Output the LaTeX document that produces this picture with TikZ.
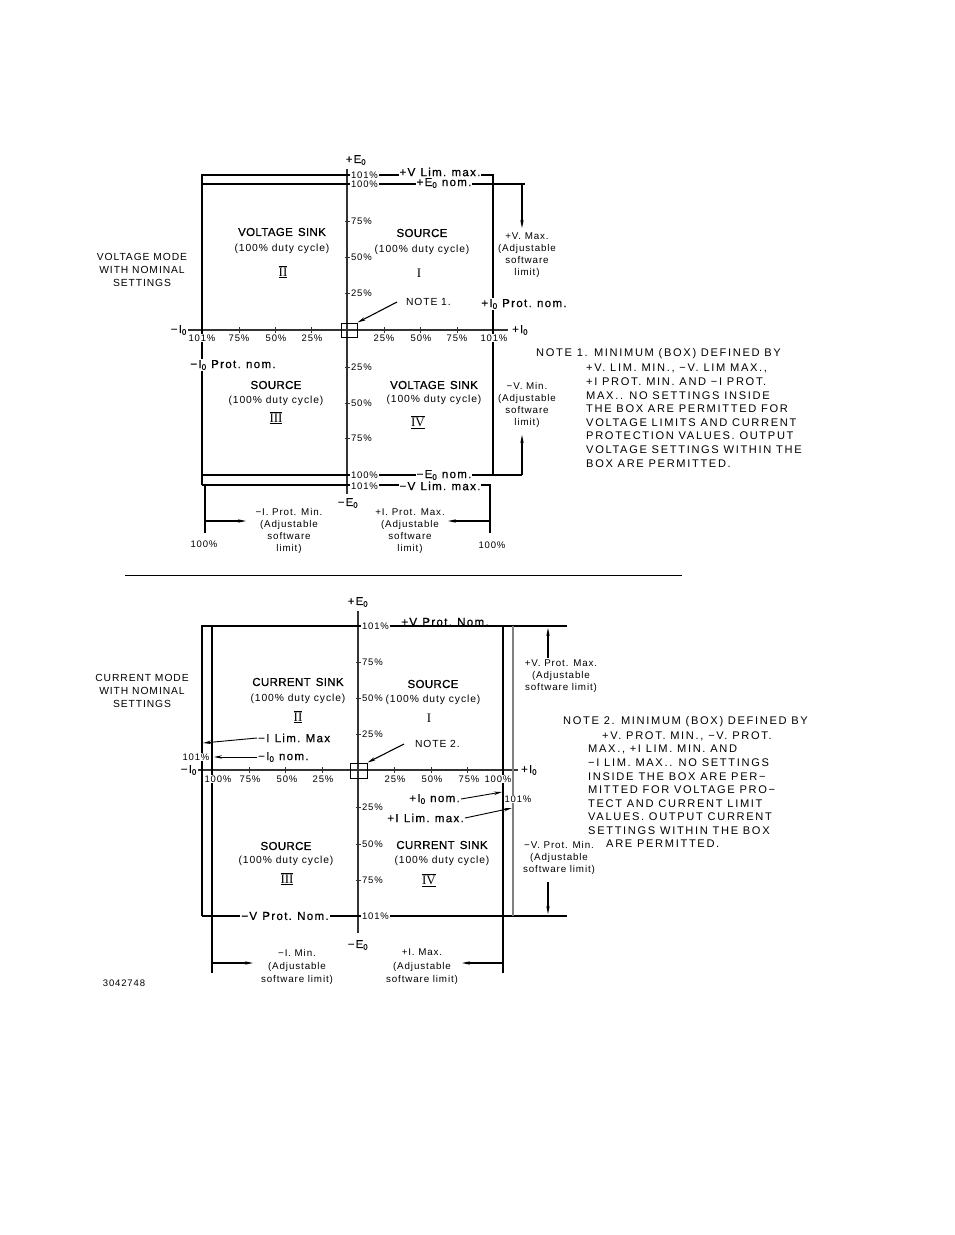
\documentclass[tikz,border=0pt]{standalone}
\usepackage{fontspec}
\setmainfont{Liberation Sans}[LetterSpace=9]
\newfontfamily\notefont{Liberation Sans}[LetterSpace=15]
\newfontfamily\labfont{Liberation Sans}[LetterSpace=11,FakeBold=0.6]
\newfontfamily\titlefont{Liberation Sans}[LetterSpace=3,FakeBold=0.8]
\newfontfamily\romfont{Liberation Serif}
\usetikzlibrary{arrows.meta}
\newcommand\gp{\hspace{0.45em}}
\newcommand\bars[1]{$\overline{\underline{\hbox{#1}}}$}
\tikzset{
  ln/.style={line width=1.1pt, black},
  ax/.style={line width=1.1pt, black!80},
  arr/.style={line width=1.1pt, black, -{Stealth[length=8pt,width=3.4pt]}},
  tk/.style={font=\fontsize{9.5}{11}\selectfont, inner sep=0.8pt, fill=white},
  ttl/.style={font=\titlefont\fontsize{11.5}{13}\selectfont, inner sep=0},
  duty/.style={font=\fontsize{10.3}{12}\selectfont, inner sep=0},
  rom/.style={font=\romfont\fontsize{13}{14}\selectfont, inner sep=0},
  lab/.style={font=\labfont\fontsize{11.6}{13}\selectfont, inner sep=1pt, fill=white},
  axl/.style={font=\labfont\fontsize{11.3}{13}\selectfont, inner sep=0},
  sm/.style={font=\fontsize{9.8}{12.2}\selectfont, inner sep=0, align=center},
  smb/.style={font=\fontsize{9.8}{13.4}\selectfont, inner sep=0, align=center},
  mode/.style={font=\fontsize{10.3}{13.2}\selectfont, inner sep=0, align=center},
  note/.style={font=\notefont\fontsize{11.1}{13.6}\selectfont, inner sep=0, align=left},
  boxn/.style={draw, line width=1pt, inner sep=0},
}
\begin{document}
\begin{tikzpicture}[x=1pt,y=-1pt]
\useasboundingbox (0,0) rectangle (954,1235);
\fill[white] (0,0) rectangle (954,1235);

%================= TOP DIAGRAM =================
\coordinate (tAt) at (347,169); \coordinate (tAb) at (347,494);
\coordinate (tHl) at (188,330); \coordinate (tHr) at (508,330);
\draw[ax] (tAt) -- (tAb);
\draw[ax] (tHl) -- (tHr);
\foreach \x in {202,239,275,311,384,420,457,493} \draw[ax,line width=0.8pt] (\x,327) -- (\x,333);
\foreach \y in {175,184,221,257,293,367,403,438,475,485} \draw[ax,line width=0.8pt] (345,\y) -- (351,\y);

\coordinate (tLb) at (202,485); \coordinate (tLt) at (202,175);
\coordinate (tRt) at (493,175); \coordinate (tRb) at (493,475);
\draw[ln] (tLb) -- (tLt) -- (tRt) -- (tRb);
\coordinate (tN1) at (202,184); \coordinate (tN2) at (525,184);
\draw[ln] (tN1) -- (tN2);
\coordinate (tM1) at (202,475); \coordinate (tM2) at (522,475);
\draw[ln] (tM1) -- (tM2);
\coordinate (tV1) at (202,485); \coordinate (tV2) at (490,485); \coordinate (tV3) at (490,533);
\draw[ln] (tV1) -- (tV2) -- (tV3);
\coordinate (tW1) at (205,486); \coordinate (tW2) at (205,533);
\draw[ln] (tW1) -- (tW2);

\coordinate (tvA) at (522,184); \coordinate (tvB) at (522,228);
\draw[arr] (tvA) -- (tvB);
\coordinate (tvC) at (522,475); \coordinate (tvD) at (522,435);
\draw[arr] (tvC) -- (tvD);
\coordinate (tiA) at (205,521); \coordinate (tiB) at (246,521);
\draw[arr] (tiA) -- (tiB);
\coordinate (tiC) at (490,521); \coordinate (tiD) at (448,521);
\draw[arr] (tiC) -- (tiD);

\node[axl] (tEp) at (356,160) {+E\textsubscript{0}};
\node[axl] (tEm) at (348,503) {−E\textsubscript{0}};
\node[axl,anchor=east] (tIm) at (187,330) {−I\textsubscript{0}};
\node[axl,anchor=west] (tIp) at (512,330) {+I\textsubscript{0}};

\node[tk] (th1) at (202,338) {101\%};
\node[tk] (th2) at (239,338) {75\%};
\node[tk] (th3) at (276,338) {50\%};
\node[tk] (th4) at (312,338) {25\%};
\node[tk] (th5) at (384,338) {25\%};
\node[tk] (th6) at (421,338) {50\%};
\node[tk] (th7) at (457,338) {75\%};
\node[tk] (th8) at (494,338) {101\%};
\node[tk,anchor=west] (tv1) at (350,175) {101\%};
\node[tk,anchor=west] (tv2) at (350,184) {100\%};
\node[tk,anchor=west] (tv3) at (350,221) {75\%};
\node[tk,anchor=west] (tv4) at (350,257) {50\%};
\node[tk,anchor=west] (tv5) at (350,293) {25\%};
\node[tk,anchor=west] (tv6) at (350,367) {25\%};
\node[tk,anchor=west] (tv7) at (350,403) {50\%};
\node[tk,anchor=west] (tv8) at (350,438) {75\%};
\node[tk,anchor=west] (tv9) at (350,475) {100\%};
\node[tk,anchor=west] (tv10) at (350,486) {101\%};

\node[lab] (tVlim) at (440,172) {+V\gp Lim.\gp max.};
\node[lab] (tEnom) at (444,183) {+E\textsubscript{0} nom.};
\node[lab] (tEmnom) at (444,475) {−E\textsubscript{0} nom.};
\node[lab] (tVmlim) at (440,486) {−V\gp Lim.\gp max.};
\node[lab] (tIpn) at (524,304) {+I\textsubscript{0} Prot.\gp nom.};
\node[lab] (tImn) at (233,365) {−I\textsubscript{0} Prot.\gp nom.};

\node[sm] (tVmax) at (527,255) {+V. Max.\\(Adjustable\\software\\limit)};
\node[sm] (tVmin) at (527,405) {−V. Min.\\(Adjustable\\software\\limit)};
\node[sm] (tIpmin) at (289,531) {−I. Prot. Min.\\(Adjustable\\software\\limit)};
\node[sm] (tIpmax) at (410,531) {+I. Prot. Max.\\(Adjustable\\software\\limit)};
\node[tk,fill=none] (tp1) at (204,544) {100\%};
\node[tk,fill=none] (tp2) at (492,545) {100\%};

\node[ttl] (tq2a) at (282,232) {VOLTAGE\gp SINK};
\node[duty] (tq2b) at (282,249) {(100\% duty cycle)};
\node[rom] (tq2c) at (283,272) {\bars{II}};
\node[ttl] (tq1a) at (422,233) {SOURCE};
\node[duty] (tq1b) at (422,250) {(100\% duty cycle)};
\node[rom] (tq1c) at (419,273) {I};
\node[ttl] (tq3a) at (276,385) {SOURCE};
\node[duty] (tq3b) at (276,401) {(100\% duty cycle)};
\node[rom] (tq3c) at (276,418) {\bars{III}};
\node[ttl] (tq4a) at (434,385) {VOLTAGE\gp SINK};
\node[duty] (tq4b) at (434,400) {(100\% duty cycle)};
\node[rom] (tq4c) at (418,422) {\bars{IV}};

\node[mode] (tmode) at (142,270) {VOLTAGE MODE\\WITH NOMINAL\\SETTINGS};

\node[boxn, minimum width=16pt, minimum height=14pt] (tbox) at (349,330) {};
\node[tk,fill=none,anchor=west,font=\fontsize{10.3}{12}\selectfont] (tnote) at (405,302) {NOTE 1.};
\coordinate (tnl) at (397,302);
\draw[arr] (tnl) -- (tbox.north east);

\node[note,anchor=west] (tn1a) at (536,354) {NOTE 1. MINIMUM (BOX) DEFINED BY};
\node[note,anchor=north west] (tn1b) at (586,364) {+V. LIM. MIN., −V. LIM MAX.,\\+I PROT. MIN. AND −I PROT.\\MAX.. NO SETTINGS INSIDE\\THE BOX ARE PERMITTED FOR\\VOLTAGE LIMITS AND CURRENT\\PROTECTION VALUES. OUTPUT\\VOLTAGE SETTINGS WITHIN THE\\BOX ARE PERMITTED.};

\coordinate (sepL) at (125,575); \coordinate (sepR) at (682,575);
\draw[line width=1pt] (sepL) -- (sepR);

%================= BOTTOM DIAGRAM =================
\coordinate (bAt) at (358,611); \coordinate (bAb) at (358,933);
\coordinate (bHl) at (198,770); \coordinate (bHr) at (518,770);
\draw[ax] (bAt) -- (bAb);
\draw[ax] (bHl) -- (bHr);
\foreach \x in {212,249,285,322,394,431,467,503} \draw[ax,line width=0.8pt] (\x,767) -- (\x,773);
\foreach \y in {626,662,698,734,807,844,880,916} \draw[ax,line width=0.8pt] (356,\y) -- (362,\y);

\coordinate (bL1) at (202,916); \coordinate (bL2) at (202,626); \coordinate (bL3) at (567,626);
\draw[ln] (bL1) -- (bL2) -- (bL3);
\coordinate (bB2) at (567,916);
\draw[ln] (bL1) -- (bB2);
\coordinate (bI1) at (212,626); \coordinate (bI2) at (212,973);
\draw[ln] (bI1) -- (bI2);
\coordinate (bR1) at (503,626); \coordinate (bR2) at (503,973);
\draw[ln] (bR1) -- (bR2);
\coordinate (bS1) at (513,626); \coordinate (bS2) at (513,916);
\draw[ln,black!50] (bS1) -- (bS2);

\coordinate (bvA) at (548,658); \coordinate (bvB) at (548,628);
\draw[arr] (bvA) -- (bvB);
\coordinate (bvC) at (548,882); \coordinate (bvD) at (548,914);
\draw[arr] (bvC) -- (bvD);
\coordinate (biA) at (212,963); \coordinate (biB) at (253,963);
\draw[arr] (biA) -- (biB);
\coordinate (biC) at (503,963); \coordinate (biD) at (462,963);
\draw[arr] (biC) -- (biD);

\node[axl] (bEp) at (358,602) {+E\textsubscript{0}};
\node[axl] (bEm) at (358,945) {−E\textsubscript{0}};
\node[axl,anchor=east] (bIm) at (197,770) {−I\textsubscript{0}};
\node[axl,anchor=west] (bIp) at (521,770) {+I\textsubscript{0}};

\node[tk] (bh1) at (218,779) {100\%};
\node[tk] (bh2) at (250,779) {75\%};
\node[tk] (bh3) at (287,779) {50\%};
\node[tk] (bh4) at (323,779) {25\%};
\node[tk] (bh5) at (395,779) {25\%};
\node[tk] (bh6) at (432,779) {50\%};
\node[tk] (bh7) at (469,779) {75\%};
\node[tk] (bh8) at (498,779) {100\%};
\node[tk,anchor=west] (bv1) at (361,626) {101\%};
\node[tk,anchor=west] (bv2) at (361,662) {75\%};
\node[tk,anchor=west] (bv3) at (361,698) {50\%};
\node[tk,anchor=west] (bv4) at (361,734) {25\%};
\node[tk,anchor=west] (bv5) at (361,807) {25\%};
\node[tk,anchor=west] (bv6) at (361,844) {50\%};
\node[tk,anchor=west] (bv7) at (361,880) {75\%};
\node[tk,anchor=west] (bv8) at (361,916) {101\%};

\node[lab,fill=none] (bVpn) at (445,622) {+V\gp Prot.\gp Nom.};
\node[lab] (bVmn) at (285,916) {−V\gp Prot.\gp Nom.};
\node[tk] (b101l) at (196,757) {101\%};
\node[tk] (b101r) at (518,799) {101\%};
\node[lab,fill=none,anchor=west] (bIlim) at (257,738) {−I\gp Lim.\gp Max};
\node[lab,fill=none,anchor=west] (bI0n) at (257,757) {−I\textsubscript{0} nom.};
\node[lab,fill=none,anchor=east] (bIpn) at (461,799) {+I\textsubscript{0} nom.};
\node[lab,fill=none,anchor=east] (bIplim) at (465,818) {+I\gp Lim.\gp max.};
\coordinate (bl1) at (203,743); \coordinate (bl2) at (214,757);
\coordinate (bl3) at (502,792); \coordinate (bl4) at (512,808);
\draw[arr,line width=0.9pt] (bIlim.west) -- (bl1);
\draw[arr,line width=0.9pt] (bI0n.west) -- (bl2);
\draw[arr,line width=0.9pt] (bIpn.east) -- (bl3);
\draw[arr,line width=0.9pt] (bIplim.east) -- (bl4);

\node[sm] (bVmax) at (561,676) {+V. Prot. Max.\\(Adjustable\\software limit)};
\node[sm] (bVmin) at (559,858) {−V. Prot. Min.\\(Adjustable\\software limit)};
\node[smb] (bImin) at (297,967) {−I. Min.\\(Adjustable\\software limit)};
\node[smb] (bImax) at (422,967) {+I. Max.\\(Adjustable\\software limit)};

\node[ttl] (bq2a) at (298,682) {CURRENT\gp SINK};
\node[duty] (bq2b) at (298,699) {(100\% duty cycle)};
\node[rom] (bq2c) at (298,717) {\bars{II}};
\node[ttl] (bq1a) at (433,684) {SOURCE};
\node[duty] (bq1b) at (433,700) {(100\% duty cycle)};
\node[rom] (bq1c) at (429,718) {I};
\node[ttl] (bq3a) at (286,846) {SOURCE};
\node[duty] (bq3b) at (286,861) {(100\% duty cycle)};
\node[rom] (bq3c) at (287,879) {\bars{III}};
\node[ttl] (bq4a) at (442,845) {CURRENT\gp SINK};
\node[duty] (bq4b) at (442,861) {(100\% duty cycle)};
\node[rom] (bq4c) at (429,880) {\bars{IV}};

\node[mode] (bmode) at (142,691) {CURRENT MODE\\WITH NOMINAL\\SETTINGS};

\node[boxn, minimum width=17pt, minimum height=15pt] (bbox) at (358.5,770.5) {};
\node[tk,fill=none,anchor=west,font=\fontsize{10.3}{12}\selectfont] (bnote) at (414,744) {NOTE 2.};
\coordinate (bnl) at (404,744);
\draw[arr] (bnl) -- (bbox.north east);

\node[note,anchor=west] (bn2a) at (563,722) {NOTE 2. MINIMUM (BOX) DEFINED BY};
\node[note,anchor=west] (bn2b) at (602,736) {+V. PROT. MIN., −V. PROT.};
\node[note,anchor=north west] (bn2c) at (588,745) {MAX., +I LIM. MIN. AND\\−I LIM. MAX.. NO SETTINGS\\INSIDE\gp THE BOX ARE PER−\\MITTED FOR VOLTAGE PRO−\\TECT AND CURRENT LIMIT\\VALUES. OUTPUT CURRENT\\SETTINGS WITHIN THE BOX};
\node[note,anchor=west] (bn2d) at (606,844) {ARE PERMITTED.};

\node[tk,fill=none] (bid) at (124,983) {3042748};
\end{tikzpicture}
\end{document}
